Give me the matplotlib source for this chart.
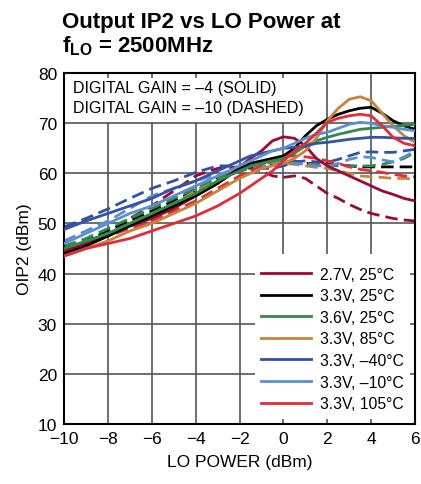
import numpy as np
import matplotlib
matplotlib.use('Agg')
import matplotlib.pyplot as plt
from matplotlib.patches import Rectangle

plt.rcParams['font.family'] = ['Liberation Sans', 'DejaVu Sans']

# LO power points (dBm)
lo_power = [-10, -9, -8, -7, -6, -5, -4, -3, -2, -1.5, -1, -0.5, 0, 0.5, 1, 1.5, 2,
            2.5, 3, 3.5, 4, 4.5, 5, 5.5, 6]

labels = ['2.7V, 25°C', '3.3V, 25°C', '3.6V, 25°C', '3.3V, 85°C',
          '3.3V, –40°C', '3.3V, –10°C', '3.3V, 105°C']
colors = ['#9c0a34', '#000000', '#2e8b4a', '#c8823a', '#3351a5', '#5b8fd2', '#e42c38']

# OIP2 (dBm), digital gain = -4 (solid)
oip2_27v_25c = [44.5, 46, 47.5, 49.5, 51, 53, 55.5, 58, 61.3, 63, 64.5, 66.5, 67.3, 67, 65.5,
                63, 61.5, 60.5, 59.5, 58.5, 57.5, 56.5, 55.8, 55, 54.5]
oip2_33v_25c = [44, 45.5, 47.5, 49.5, 51.5, 53.5, 55.5, 58, 61, 62, 62.5, 63, 63.5, 65, 67.5,
                69.5, 70.8, 71.8, 72.5, 73, 73.2, 72, 70.5, 69.5, 68.8]
oip2_36v_25c = [45, 46.5, 48, 50, 52, 54, 56, 58.5, 60.5, 61.5, 62, 62.5, 63, 64, 65.5,
                66.5, 67.2, 67.8, 68.3, 68.8, 69, 69.2, 69.4, 69.6, 69.8]
oip2_33v_85c = [43.5, 45, 46.5, 48.5, 50, 52, 54, 56.5, 59, 60, 61, 61.5, 62, 63, 64.5,
                67, 70.5, 73, 74.8, 75.3, 74.5, 72, 69.5, 67.5, 66.2]
oip2_33v_m40c = [48.8, 50.5, 52, 53.5, 55, 57, 58.5, 60.5, 62.5, 63.5, 64, 64.5, 65, 65.2, 65.5,
                 66, 66.2, 66.5, 66.8, 67, 67.2, 67.2, 67.1, 67, 67]
oip2_33v_m10c = [46, 48, 50, 52, 53.5, 55.5, 57.5, 59.5, 61.5, 62.5, 63.5, 64.5, 65, 66, 67,
                 67.8, 68.2, 69, 69.8, 70.2, 70, 69.5, 69.2, 68.8, 68.5]
oip2_33v_105c = [43.5, 45, 46, 47, 48.5, 50, 51.5, 53.5, 56, 57.5, 59, 60.5, 62.5, 64.5, 66,
                 68, 70.2, 71, 71.5, 71.8, 71.5, 69.5, 67.2, 66, 65.5]

# OIP2 (dBm), digital gain = -10 (dashed)
oip2_27v_25c_d = [45, 46.5, 48.3, 51, 53.5, 56.5, 59.5, 61, 61.3, 61, 60.5, 59.5, 59.2, 59.5, 59,
                  57.5, 56, 55, 53.8, 52.8, 52, 51.5, 51, 50.7, 50.5]
oip2_33v_25c_d = [45, 46.5, 48.5, 50.5, 52.5, 54.5, 56.5, 59, 60.5, 61, 61.5, 62, 62.3, 62.3, 62,
                  62, 61.9, 61.7, 61.5, 61.3, 61.3, 61.3, 61.3, 61.3, 61.3]
oip2_36v_25c_d = [45.5, 47, 49, 51, 53, 55, 57, 59, 60.5, 61, 61.5, 62, 62.5, 62.5, 62,
                  61.8, 61.7, 61.5, 61.5, 61.5, 61.5, 61.8, 62.3, 63, 64.2]
oip2_33v_85c_d = [44.5, 46, 48, 50, 52, 54, 56.5, 58.5, 60.5, 61.5, 62, 62.2, 62, 61.8, 61.5,
                  61.2, 61, 60.5, 60, 59.5, 59.3, 59.2, 59, 59, 58.9]
oip2_33v_m40c_d = [49.3, 51, 52.9, 55, 57, 58.5, 60.2, 61.5, 61.5, 61.3, 61, 61, 61.5, 62.3, 62.5,
                   62.3, 62.2, 62.8, 63.5, 64.2, 64.3, 64.2, 64.2, 64.5, 64.8]
oip2_33v_m10c_d = [46.5, 48.5, 50.5, 53, 55.5, 57, 58.5, 59.8, 60.8, 61.3, 61.5, 61.8, 62, 62, 61.8,
                   61.5, 61.5, 62, 62.8, 63.3, 63.2, 62.7, 62.3, 63.3, 64.5]
oip2_33v_105c_d = [44, 45.5, 47.5, 49, 50.5, 52.5, 54.5, 57, 59.5, 60.5, 61.5, 62.5, 63.3, 63.5, 63.3,
                   63, 62.5, 62, 61.3, 60.8, 60.5, 60.2, 59.8, 59.5, 59.3]

solid = [oip2_27v_25c, oip2_33v_25c, oip2_36v_25c, oip2_33v_85c,
         oip2_33v_m40c, oip2_33v_m10c, oip2_33v_105c]
dashed = [oip2_27v_25c_d, oip2_33v_25c_d, oip2_36v_25c_d, oip2_33v_85c_d,
          oip2_33v_m40c_d, oip2_33v_m10c_d, oip2_33v_105c_d]

fig = plt.figure(figsize=(4.21, 4.85), dpi=100)
ax = fig.add_axes([0.152, 0.124, 0.834, 0.723])

for ys, c in zip(dashed, colors):
    ax.plot(lo_power, ys, color=c, lw=2.0, dashes=(4.5, 2.2), zorder=2)
handles = []
for ys, c, lab in zip(solid, colors, labels):
    h, = ax.plot(lo_power, ys, color=c, lw=2.0, label=lab, zorder=3)
    handles.append(h)

ax.set_xlim(-10, 6)
ax.set_ylim(10, 80)
ax.set_xticks(range(-10, 7, 2))
ax.set_yticks(range(10, 81, 10))
ax.set_axisbelow(True)
ax.grid(True, color='#555555', lw=1.2)
ax.tick_params(length=0, labelsize=12.5, pad=5)
for s in ax.spines.values():
    s.set_linewidth(1.5)

# white boxes behind the note and legend
ax.add_patch(Rectangle((-9.77, 70.3), 11.72, 8.7, facecolor='white', edgecolor='none', zorder=1))
ax.add_patch(Rectangle((-1.3, 11.0), 7.07, 32.9, facecolor='white', edgecolor='none', zorder=1))

ax.text(-9.6, 77.2, 'DIGITAL GAIN = –4 (SOLID)', fontsize=11.5, va='center', zorder=4)
ax.text(-9.6, 73.2, 'DIGITAL GAIN = –10 (DASHED)', fontsize=11.5, va='center', zorder=4)

ax.legend(handles=handles, loc='lower right', bbox_to_anchor=(1.0, 0.005), frameon=False,
          fontsize=11.3, handlelength=3.2, handletextpad=0.6, labelspacing=0.42,
          borderaxespad=0.3)

ax.set_xlabel('LO POWER (dBm)', fontsize=12.5, labelpad=6)
ax.set_ylabel('OIP2 (dBm)', fontsize=12.5, labelpad=4)

fig.text(0.147, 0.943, 'Output IP2 vs LO Power at', fontsize=16, fontweight='bold', va='baseline')
fig.text(0.147, 0.892, r'f$_\mathregular{LO}$ = 2500MHz', fontsize=16, fontweight='bold', va='baseline')

fig.savefig('out.png', dpi=100)
